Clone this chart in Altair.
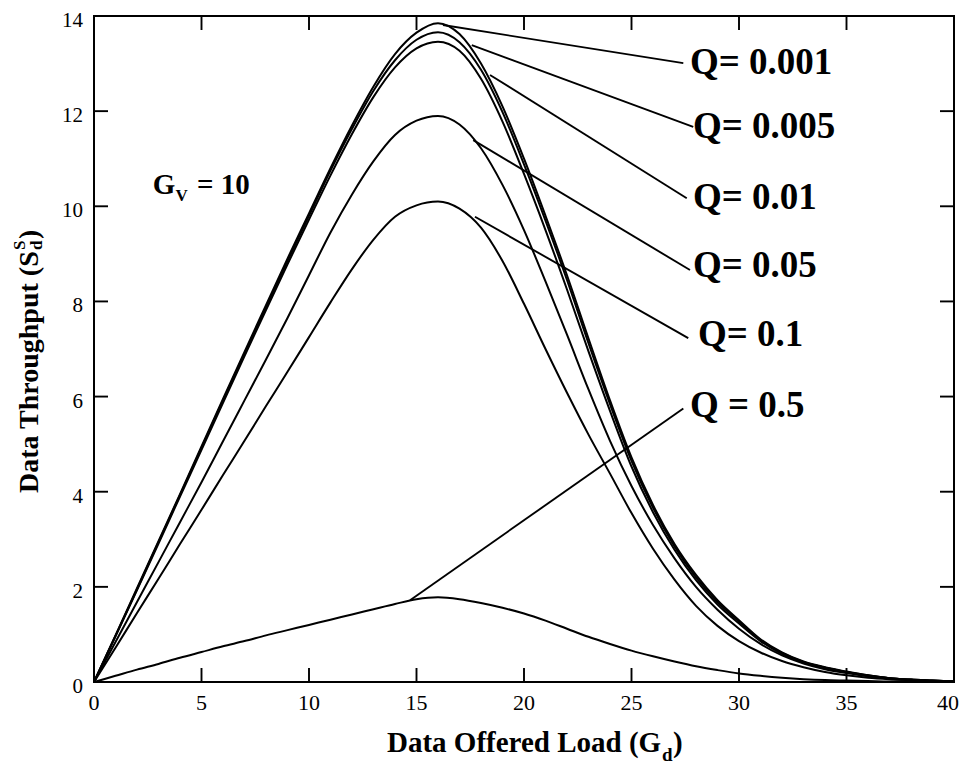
import altair as alt
import pandas as pd

# ---------------- data ----------------
G = list(range(0, 41))

S_Q0001 = [0, 0.98, 1.97, 2.96, 3.95, 4.95, 5.95, 6.94, 7.92, 8.9, 9.85, 10.8, 11.7, 12.52,
           13.2, 13.65, 13.85, 13.62, 13.0, 12.1, 11.0, 9.8, 8.55, 7.22, 5.92, 4.72, 3.72,
           2.9, 2.25, 1.72, 1.3, 0.9, 0.62, 0.43, 0.31, 0.22, 0.14, 0.08, 0.05, 0.03, 0.01]
S_Q0005 = [0, 0.97, 1.95, 2.94, 3.93, 4.92, 5.92, 6.9, 7.88, 8.85, 9.8, 10.75, 11.63, 12.43,
           13.07, 13.5, 13.66, 13.45, 12.87, 11.98, 10.88, 9.7, 8.45, 7.12, 5.84, 4.65, 3.66,
           2.85, 2.2, 1.68, 1.27, 0.88, 0.61, 0.42, 0.3, 0.21, 0.14, 0.08, 0.05, 0.03, 0.01]
S_Q001 = [0, 0.96, 1.93, 2.91, 3.9, 4.88, 5.87, 6.85, 7.82, 8.78, 9.72, 10.65, 11.52, 12.3,
          12.92, 13.32, 13.46, 13.27, 12.68, 11.78, 10.68, 9.5, 8.25, 6.95, 5.7, 4.53, 3.57,
          2.78, 2.14, 1.63, 1.23, 0.86, 0.59, 0.41, 0.3, 0.21, 0.13, 0.08, 0.05, 0.03, 0.01]
S_Q005 = [0, 0.84, 1.68, 2.52, 3.36, 4.2, 5.06, 5.92, 6.78, 7.65, 8.55, 9.45, 10.25, 10.95,
          11.5, 11.8, 11.9, 11.72, 11.22, 10.45, 9.5, 8.42, 7.3, 6.15, 5.07, 4.12, 3.3,
          2.6, 2.0, 1.52, 1.12, 0.8, 0.56, 0.39, 0.27, 0.19, 0.12, 0.07, 0.04, 0.02, 0.01]
S_Q01 = [0, 0.72, 1.45, 2.17, 2.9, 3.62, 4.35, 5.07, 5.8, 6.52, 7.25, 7.98, 8.68, 9.3,
         9.78, 10.02, 10.1, 9.95, 9.55, 8.85, 7.95, 7.0, 6.08, 5.2, 4.38, 3.55, 2.8,
         2.15, 1.6, 1.18, 0.86, 0.62, 0.44, 0.31, 0.21, 0.14, 0.09, 0.06, 0.04, 0.02, 0.01]
S_Q05 = [0, 0.13, 0.26, 0.38, 0.51, 0.63, 0.75, 0.86, 0.98, 1.09, 1.2, 1.31, 1.42, 1.53,
         1.64, 1.74, 1.78, 1.74, 1.66, 1.56, 1.44, 1.29, 1.12, 0.95, 0.8, 0.66, 0.54,
         0.43, 0.33, 0.25, 0.18, 0.13, 0.09, 0.06, 0.04, 0.03, 0.02, 0.01, 0.01, 0, 0]

Q_NAMES = ["0.001", "0.005", "0.01", "0.05", "0.1", "0.5"]
SERIES = [S_Q0001, S_Q0005, S_Q001, S_Q005, S_Q01, S_Q05]

LABELS = ["Q= 0.001", "Q= 0.005", "Q= 0.01", "Q= 0.05", "Q= 0.1", "Q = 0.5"]
# leader lines: start on curve (g1, s1) -> end at label (g2, s2)
LEAD_G1 = [16.23, 17.57, 18.42, 17.64, 17.72, 14.70]
LEAD_S1 = [13.81, 13.39, 12.76, 11.39, 9.78, 1.72]
LEAD_G2 = [27.41, 27.87, 27.57, 27.72, 27.64, 27.41]
LEAD_S2 = [13.01, 11.67, 10.17, 8.66, 7.23, 5.75]
LABEL_G = [27.72, 27.86, 27.86, 27.86, 28.09, 27.72]
LABEL_S = [13.02, 11.67, 10.17, 8.75, 7.29, 5.80]

X_LABELS = [0, 5, 10, 15, 20, 25, 30, 35]
X_LAST_LABEL = [40]
Y_LABELS = [0, 2, 4, 6, 8, 10, 12, 14]
X_TICKS = [5, 10, 15, 20, 25, 30, 35]
Y_TICKS = [2, 4, 6, 8, 10, 12]

# ---------------- tables ----------------
rows = []
for q, vals in zip(Q_NAMES, SERIES):
    for g, s in zip(G, vals):
        rows.append({"G": g, "S": s, "Q": q})
df = pd.DataFrame(rows)

ann = pd.DataFrame({"lg": LABEL_G, "ls": LABEL_S, "label": LABELS})
xl = pd.DataFrame({"v": X_LABELS, "t": [str(v) for v in X_LABELS]})
xl_last = pd.DataFrame({"v": X_LAST_LABEL, "t": [str(v) for v in X_LAST_LABEL]})
yl = pd.DataFrame({"v": Y_LABELS, "t": [str(v) for v in Y_LABELS]})
one = pd.DataFrame({"a": [0]})

# ---------------- styling ----------------
W, H = 860, 666
FONT = "Liberation Serif"
XMAX, YMAX = 40, 14
TLX = 14 * YMAX / H   # length (14 px) of the vertical ticks, in y units
TLY = 14 * XMAX / W   # length (14 px) of the horizontal ticks, in x units

# one table of straight segments: the leader lines and the inward ticks
seg = []
for a, b, c, d in zip(LEAD_G1, LEAD_S1, LEAD_G2, LEAD_S2):
    seg.append({"x1": a, "y1": b, "x2": c, "y2": d})
for v in X_TICKS:
    seg.append({"x1": v, "y1": 0, "x2": v, "y2": TLX})
    seg.append({"x1": v, "y1": YMAX, "x2": v, "y2": YMAX - TLX})
for v in Y_TICKS:
    seg.append({"x1": 0, "y1": v, "x2": TLY, "y2": v})
    seg.append({"x1": XMAX, "y1": v, "x2": XMAX - TLY, "y2": v})
seg_df = pd.DataFrame(seg)

xs = alt.Scale(domain=[0, XMAX], nice=False, zero=False)
ys = alt.Scale(domain=[0, YMAX], nice=False, zero=False)


def X(f):
    return alt.X(f, scale=xs, axis=None)


def Y(f):
    return alt.Y(f, scale=ys, axis=None)


curves = alt.Chart(df).mark_line(color="black", strokeWidth=2, interpolate="monotone").encode(
    x=X("G:Q"), y=Y("S:Q"), detail="Q:N")

segments = alt.Chart(seg_df).mark_rule(color="black", strokeWidth=1.9).encode(
    x=X("x1:Q"), y=Y("y1:Q"), x2="x2:Q", y2="y2:Q")

qlabels = alt.Chart(ann).mark_text(align="left", baseline="middle", font=FONT, fontSize=37,
                                   fontWeight="bold", color="black").encode(
    x=X("lg:Q"), y=Y("ls:Q"), text="label:N")

# tick labels, placed through the scales (kept inside the canvas)
xlabels = alt.Chart(xl).mark_text(align="center", baseline="alphabetic", font=FONT,
                                  fontSize=22, color="black").encode(
    x=X("v:Q"), y=alt.value(H + 28), text="t:N")
xlabel_last = alt.Chart(xl_last).mark_text(align="right", baseline="alphabetic", font=FONT,
                                           fontSize=22, color="black", dx=5).encode(
    x=X("v:Q"), y=alt.value(H + 28), text="t:N")
ylabels = alt.Chart(yl).mark_text(align="right", baseline="alphabetic", font=FONT,
                                  fontSize=21, color="black", dx=-11, dy=11).encode(
    x=alt.value(0), y=Y("v:Q"), text="t:N")


def txt(s, x, y, size, angle=0, weight="bold", baseline="alphabetic"):
    kw = dict(text=s, align="left", baseline=baseline, font=FONT, fontSize=size,
              fontWeight=weight, color="black")
    if angle:
        kw["angle"] = angle
    return alt.Chart(one).mark_text(**kw).encode(x=alt.value(x), y=alt.value(y))


# G_V = 10
gv = [txt("G", 58.7, 178, 29), txt("V", 81.5, 185, 17), txt("= 10", 103, 178, 29)]

# x title: Data Offered Load (G_d)
xtitle = [txt("Data Offered Load (G", 293, 736, 29), txt("d", 568, 745, 19),
          txt(")", 579, 736, 29)]

# y title: Data Throughput (S^S_d)
ytitle = [txt("Data Throughput (S", -64, 477, 28, angle=270, baseline="middle"),
          txt("S", -74, 234, 17, angle=270, baseline="middle"),
          txt("d", -57, 234, 17, angle=270, baseline="middle"),
          txt(")", -64, 223, 28, angle=270, baseline="middle")]

chart = alt.layer(curves, qlabels, xlabels, xlabel_last, ylabels,
                  *gv, *xtitle, *ytitle, segments).properties(
    width=W, height=H, autosize="none",
    padding={"left": 86, "top": 8, "right": 6, "bottom": 85},
    background="white",
).configure_view(stroke="black", strokeWidth=2)

chart.save("out.html", embed_options={"renderer": "svg", "actions": False})
